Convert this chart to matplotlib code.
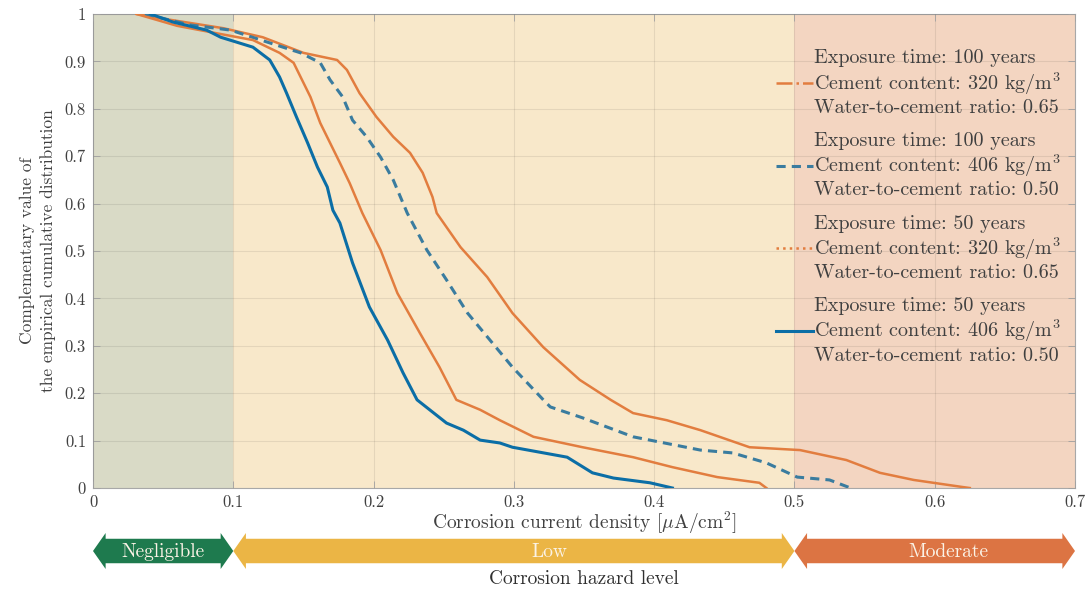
import matplotlib
matplotlib.use("Agg")
import matplotlib.pyplot as plt
from matplotlib.lines import Line2D
from matplotlib.patches import Polygon

plt.rcParams['font.family'] = ['cmr10', 'DejaVu Serif']
plt.rcParams['mathtext.fontset'] = 'cm'
plt.rcParams['axes.formatter.use_mathtext'] = True
plt.rcParams['axes.unicode_minus'] = False

# survival curves (x = current density, y = 1 - ECDF)
x_100_320 = [0.031, 0.046, 0.093, 0.121, 0.150, 0.174, 0.181, 0.190, 0.202, 0.214,
             0.226, 0.235, 0.242, 0.245, 0.262, 0.281, 0.299, 0.321, 0.347, 0.369,
             0.385, 0.409, 0.433, 0.468, 0.504, 0.537, 0.561, 0.585, 0.620, 0.625]
y_100_320 = [1.0, 0.992, 0.970, 0.951, 0.918, 0.903, 0.882, 0.833, 0.783, 0.741,
             0.707, 0.665, 0.614, 0.580, 0.508, 0.445, 0.369, 0.297, 0.228, 0.186,
             0.158, 0.143, 0.122, 0.086, 0.080, 0.059, 0.032, 0.017, 0.002, 0.0]

x_100_406 = [0.037, 0.069, 0.098, 0.126, 0.148, 0.162, 0.169, 0.178, 0.185, 0.195,
             0.205, 0.214, 0.224, 0.238, 0.252, 0.267, 0.283, 0.299, 0.321, 0.326,
             0.349, 0.385, 0.433, 0.456, 0.480, 0.502, 0.525, 0.540]
y_100_406 = [1.0, 0.977, 0.966, 0.939, 0.918, 0.897, 0.861, 0.825, 0.776, 0.741,
             0.698, 0.650, 0.580, 0.502, 0.439, 0.369, 0.312, 0.255, 0.186, 0.171,
             0.148, 0.108, 0.080, 0.074, 0.053, 0.023, 0.017, 0.0]

x_50_320 = [0.031, 0.060, 0.114, 0.133, 0.143, 0.148, 0.155, 0.162, 0.169, 0.176,
            0.183, 0.192, 0.205, 0.217, 0.233, 0.247, 0.259, 0.276, 0.290, 0.314,
            0.349, 0.385, 0.413, 0.445, 0.475, 0.480]
y_50_320 = [1.0, 0.975, 0.945, 0.918, 0.897, 0.867, 0.825, 0.770, 0.728, 0.686,
            0.643, 0.580, 0.502, 0.411, 0.327, 0.255, 0.186, 0.165, 0.143, 0.108,
            0.086, 0.065, 0.044, 0.023, 0.011, 0.0]

x_50_406 = [0.041, 0.057, 0.081, 0.091, 0.114, 0.126, 0.133, 0.138, 0.145, 0.153,
            0.160, 0.167, 0.171, 0.176, 0.185, 0.197, 0.210, 0.221, 0.231, 0.240,
            0.252, 0.264, 0.276, 0.290, 0.299, 0.338, 0.356, 0.371, 0.397, 0.413]
y_50_406 = [1.0, 0.983, 0.966, 0.951, 0.930, 0.903, 0.867, 0.833, 0.783, 0.728,
            0.677, 0.635, 0.586, 0.559, 0.475, 0.382, 0.312, 0.243, 0.186, 0.165,
            0.137, 0.122, 0.101, 0.095, 0.086, 0.065, 0.032, 0.021, 0.011, 0.0]

labels = [
    "Exposure time: 100 years\nCement content: 320 kg/m$^3$\nWater-to-cement ratio: 0.65",
    "Exposure time: 100 years\nCement content: 406 kg/m$^3$\nWater-to-cement ratio: 0.50",
    "Exposure time: 50 years\nCement content: 320 kg/m$^3$\nWater-to-cement ratio: 0.65",
    "Exposure time: 50 years\nCement content: 406 kg/m$^3$\nWater-to-cement ratio: 0.50",
]

zone_bounds = [0.0, 0.1, 0.5, 0.7]
zone_names = ["Negligible", "Low", "Moderate"]
zone_label_x = [0.05, 0.325, 0.61]
zone_bg = ["#d9dac6", "#f8e8ca", "#f3d5c1"]
zone_arrow = ["#1e7a4e", "#ebb545", "#dc7443"]

ticks = [0, 0.1, 0.2, 0.3, 0.4, 0.5, 0.6, 0.7, 0.8, 0.9, 1.0]
tick_labels = ["0", "0.1", "0.2", "0.3", "0.4", "0.5", "0.6", "0.7", "0.8", "0.9", "1"]

orange = "#e27d3f"
blue = "#0b6ea6"
blue_d = "#3a7c9f"

fig = plt.figure(figsize=(10.92, 5.94), dpi=100)
ax = fig.add_axes([93/1092, 1-488/594, (1075-93)/1092, (488-14)/594])

for i in range(3):
    ax.axvspan(zone_bounds[i], zone_bounds[i+1], color=zone_bg[i], lw=0, zorder=0)

ax.plot(x_100_320, y_100_320, color=orange, lw=1.8, zorder=3)
ax.plot(x_100_406, y_100_406, color=blue_d, lw=2.2, dashes=(3, 2), zorder=3)
ax.plot(x_50_320, y_50_320, color=orange, lw=1.8, zorder=3)
ax.plot(x_50_406, y_50_406, color=blue, lw=2.2, zorder=4)

ax.set_xlim(0, 0.7)
ax.set_ylim(0, 1)
ax.set_xticks(ticks[:8])
ax.set_xticklabels(tick_labels[:8])
ax.set_yticks(ticks)
ax.set_yticklabels(tick_labels)
ax.grid(True, color="black", alpha=0.08, lw=0.8)
ax.set_axisbelow(False)
ax.tick_params(direction="in", length=5, width=0.6, colors="#a0a0a0",
               labelcolor="#404040", labelsize=12, top=True, right=True, pad=5)
for s in ax.spines.values():
    s.set_color("#a8a8a8")
    s.set_linewidth(0.8)

ax.set_xlabel("Corrosion current density [$\\mu$A/cm$^2$]", fontsize=14,
              color="#404040", labelpad=0)
ax.set_ylabel("Complementary value of\nthe empirical cumulative distribution",
              fontsize=12.5, color="#404040", labelpad=6, linespacing=1.4)

handles = [
    Line2D([], [], color=orange, lw=1.8, ls="-."),
    Line2D([], [], color=blue_d, lw=2.2, dashes=(3, 2)),
    Line2D([], [], color=orange, lw=1.8, ls=":"),
    Line2D([], [], color=blue, lw=2.2),
]
leg = ax.legend(handles, labels, loc="upper right", bbox_to_anchor=(1.0, 0.955),
                frameon=False, fontsize=14.5, handlelength=1.85, handletextpad=0.05,
                labelspacing=0.75, borderaxespad=0.3)
for t in leg.get_texts():
    t.set_color("#404040")
    t.set_linespacing(1.15)

# hazard level arrows under the axis
ax2 = fig.add_axes([93/1092, 1-569/594, (1075-93)/1092, 36/594])
ax2.set_xlim(0, 0.7)
ax2.set_ylim(0, 1)
ax2.axis("off")
h = 0.009
for i in range(3):
    a, b = zone_bounds[i], zone_bounds[i+1]
    pts = [(a, 0.5), (a+h, 1), (a+h, 0.84), (b-h, 0.84), (b-h, 1), (b, 0.5),
           (b-h, 0), (b-h, 0.16), (a+h, 0.16), (a+h, 0)]
    ax2.add_patch(Polygon(pts, closed=True, color=zone_arrow[i], clip_on=False, lw=0))
    ax2.text(zone_label_x[i], 0.48, zone_names[i], color="#fbf3e6", fontsize=14,
             ha="center", va="center")

fig.text((93+1075)/2/1092, 1-579/594, "Corrosion hazard level", fontsize=14,
         color="#303030", ha="center", va="center")

fig.savefig("out.png", dpi=100)
